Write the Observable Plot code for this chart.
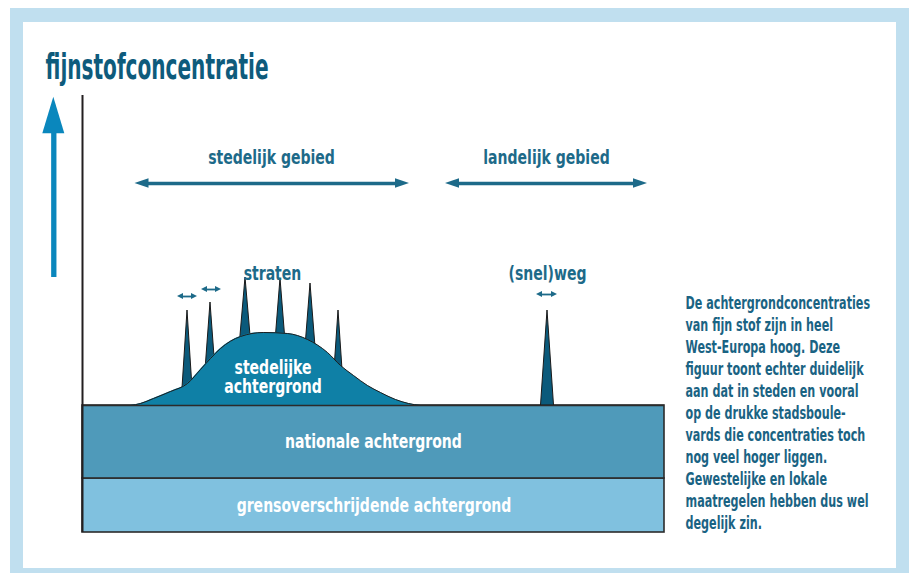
<!DOCTYPE html>
<html><head><meta charset="utf-8">
<script src="https://cdn.jsdelivr.net/npm/d3@7"></script>
<script src="https://cdn.jsdelivr.net/npm/@observablehq/plot@0.6"></script>
<style>
html,body{margin:0;padding:0;background:#fff;}
#wrap{position:relative;width:913px;height:573px;overflow:hidden;background:#fff;}
#frame{position:absolute;left:10px;top:8px;width:899px;height:565px;box-sizing:border-box;border:solid #c0dfef;border-width:14px 13px 5px 13px;pointer-events:none;z-index:2;}
#chart{position:absolute;left:0;top:0;}
</style></head>
<body><div id="wrap"><div id="chart"></div><div id="frame"></div></div>
<script>
// ---- data (schematic units: distance along the x axis, concentration up the y axis) ----
const distMax = 582;
const concMax = 437;

// background layers
const bandNames = ["grensoverschrijdende achtergrond", "nationale achtergrond"];
const bandLow = [0, 54];
const bandHigh = [54, 127];

// urban background (the hill)
const hillX = [48, 58, 71, 88, 105, 118, 128, 138, 158, 181, 205, 225, 245, 258, 271, 285, 298, 313, 326, 338];
const hillY = [127, 129, 134, 141, 149, 163, 174, 184, 196, 200, 199, 193, 180, 167, 157, 147, 140, 133, 129, 127];

// peaks: streets and (motor)way
const spikeNames = ["straat 1", "straat 2", "straat 3", "straat 4", "straat 5", "straat 6", "snelweg"];
const spikeX = [105, 128, 163, 198, 228, 256, 465];
const spikeTop = [222, 230, 255, 254, 249, 222, 222];
const spikeHalfWidth = [6.1, 7.6, 11, 10.1, 9.6, 6.4, 6.5];
const spikeBase = 127;

// area spans (double arrows)
const spanNames = ["stedelijk gebied", "landelijk gebied"];
const spanFrom = [52.5, 363];
const spanTo = [327, 565];
const spanLevel = [349, 349];

// road widths (small double arrows)
const widthFrom = [95, 119, 454];
const widthTo = [115, 139, 475];
const widthLevel = [236, 243, 238];

// vertical concentration arrow
const axisArrowX = -28.7;
const axisArrowFrom = 255;
const axisArrowTo = 435.3;

// labels
const titleText = "fijnstofconcentratie";
const titleX = -37, titleY = 454;
const topLabels = ["stedelijk gebied", "landelijk gebied", "straten", "(snel)weg"];
const topLabelX = [189, 464, 190, 465];
const topLabelY = [369, 369, 253, 253];
const innerLabels = ["stedelijke\nachtergrond", "nationale achtergrond", "grensoverschrijdende achtergrond"];
const innerLabelX = [190.5, 291, 291.5];
const innerLabelY = [140, 85, 21];
const noteLines = [
  "De achtergrondconcentraties",
  "van fijn stof zijn in heel",
  "West-Europa hoog. Deze",
  "figuur toont echter duidelijk",
  "aan dat in steden en vooral",
  "op de drukke stadsboule-",
  "vards die concentraties toch",
  "nog veel hoger liggen.",
  "Gewestelijke en lokale",
  "maatregelen hebben dus wel",
  "degelijk zin."
];
const noteX = 603, noteY = 4;

// ---- derived tables ----
const bands = bandNames.map((name, i) => ({name, low: bandLow[i], high: bandHigh[i]}));
const hill = hillX.map((x, i) => ({x, y: hillY[i]}));
const spikes = spikeNames.flatMap((id, i) => [
  {id, x: spikeX[i] - spikeHalfWidth[i], y1: spikeBase, y2: spikeBase},
  {id, x: spikeX[i], y1: spikeBase, y2: spikeTop[i]},
  {id, x: spikeX[i] + spikeHalfWidth[i], y1: spikeBase, y2: spikeBase}
]);
function heads(from, to, level, L, h) {
  return from.flatMap((a, i) => {
    const b = to[i], y = level[i];
    return [
      {id: i + "L", x: a, y1: y, y2: y}, {id: i + "L", x: a + L, y1: y - h, y2: y + h},
      {id: i + "R", x: b - L, y1: y - h, y2: y + h}, {id: i + "R", x: b, y1: y, y2: y}
    ];
  });
}
const spanHeads = heads(spanFrom, spanTo, spanLevel, 14, 4.8);
const widthHeads = heads(widthFrom, widthTo, widthLevel, 6, 3);
const axisHead = [
  {y: axisArrowTo, x1: axisArrowX, x2: axisArrowX},
  {y: axisArrowTo - 36.6, x1: axisArrowX - 11, x2: axisArrowX + 11}
];

const FONT = "'DejaVu Sans Condensed', 'DejaVu Sans', sans-serif";
const labelColor = "#1d6a89";
const tag = (k) => ({ariaDescription: k, ariaLabel: () => k});

const chart = Plot.plot({
  width: 913, height: 573,
  marginLeft: 82, marginRight: 249, marginTop: 95, marginBottom: 41,
  x: {domain: [0, distMax], axis: null},
  y: {domain: [0, concMax], axis: null},
  color: {domain: bandNames, range: ["#80c1df", "#4f9aba"]},
  style: {background: "transparent", overflow: "visible", fontFamily: FONT},
  marks: [
    Plot.rect(bands, {x1: 0, x2: distMax, y1: "low", y2: "high", fill: "name", stroke: "#2b2b2b", strokeWidth: 1.6}),
    Plot.areaY(spikes, {x: "x", y1: "y1", y2: "y2", z: "id", fill: "#0b5a7b", stroke: "#1a1a1a", strokeWidth: 1, curve: "linear"}),
    Plot.areaY(hill, {x: "x", y1: spikeBase, y2: "y", fill: "#0f80a6", curve: "monotone-x"}),
    Plot.line(hill, {x: "x", y: "y", stroke: "#1d1d1d", strokeWidth: 1, curve: "monotone-x"}),
    Plot.ruleY([spikeBase], {x1: 0, x2: distMax, stroke: "#2b2b2b", strokeWidth: 1.6}),
    Plot.ruleX([0], {y1: 0, y2: concMax, stroke: "#231f20", strokeWidth: 2}),
    Plot.ruleX([axisArrowX], {y1: axisArrowFrom, y2: axisArrowTo - 35, stroke: "#0a87bd", strokeWidth: 5.3}),
    Plot.areaX(axisHead, {y: "y", x1: "x1", x2: "x2", fill: "#0a87bd", curve: "linear"}),
    Plot.ruleY(spanNames.map((d, i) => i), {x1: i => spanFrom[i] + 10, x2: i => spanTo[i] - 10, y: i => spanLevel[i], stroke: "#1d6a89", strokeWidth: 3.3}),
    Plot.areaY(spanHeads, {x: "x", y1: "y1", y2: "y2", z: "id", fill: "#1d6a89", curve: "linear"}),
    Plot.ruleY(widthFrom.map((d, i) => i), {x1: i => widthFrom[i] + 4, x2: i => widthTo[i] - 4, y: i => widthLevel[i], stroke: "#1d6a89", strokeWidth: 1.8}),
    Plot.areaY(widthHeads, {x: "x", y1: "y1", y2: "y2", z: "id", fill: "#1d6a89", curve: "linear"}),
    Plot.text([titleText], {x: titleX, y: titleY, text: d => d, textAnchor: "start", lineAnchor: "bottom", fontSize: 36, fontWeight: "bold", fill: "#0e5b7c", ...tag("titel")}),
    Plot.text(topLabels, {x: (d, i) => topLabelX[i], y: (d, i) => topLabelY[i], text: d => d, lineAnchor: "bottom", fontSize: 20, fontWeight: "bold", fill: labelColor, ...tag("labels")}),
    Plot.text(innerLabels, {x: (d, i) => innerLabelX[i], y: (d, i) => innerLabelY[i], text: d => d, lineAnchor: "bottom", lineHeight: 0.95, fontSize: 20, fontWeight: "bold", fill: "white", ...tag("binnen")}),
    Plot.text([noteLines.join("\n")], {x: noteX, y: noteY, text: d => d, textAnchor: "start", lineAnchor: "bottom", lineHeight: 22 / 18, fontSize: 18, fontWeight: "bold", fill: "#1a6383", ...tag("noot")})
  ]
});

// narrow the lettering horizontally (condensed display face)
const condense = {titel: 0.62, labels: 0.78, binnen: 0.78, noot: 0.69};
for (const [key, s] of Object.entries(condense)) {
  const set = new Set([
    ...chart.querySelectorAll(`g[aria-description="${key}"] text`),
    ...chart.querySelectorAll(`text[aria-label="${key}"]`)
  ]);
  set.forEach(t => {
    let tr = t.getAttribute("transform");
    if (!tr) {
      const x = t.getAttribute("x") || 0, y = t.getAttribute("y") || 0;
      t.removeAttribute("x"); t.removeAttribute("y");
      tr = `translate(${x},${y})`;
    }
    t.setAttribute("transform", `${tr} scale(${s},1)`);
  });
}
document.getElementById("chart").appendChild(chart);
</script>
</body></html>
